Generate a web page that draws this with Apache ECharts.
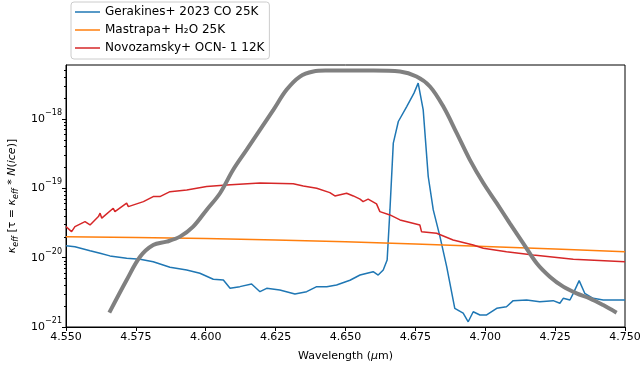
<!DOCTYPE html>
<html>
<head>
<meta charset="utf-8">
<script src="https://cdn.jsdelivr.net/npm/echarts@6/dist/echarts.min.js"></script>
<style>html,body{margin:0;padding:0;background:#fff}#c{width:642px;height:367px}</style>
</head>
<body>
<div id="c"></div>
<script>
// ---- data (real units) ----
const xTicks = [4.550, 4.575, 4.600, 4.625, 4.650, 4.675, 4.700, 4.725, 4.750];
const yTickExps = [-21, -20, -19, -18];

const seriesNames = ['Gerakines+ 2023 CO 25K', 'Mastrapa+ H\u2082O 25K', 'Novozamsky+ OCN- 1 12K'];

const coWave = [4.5500,4.5532,4.5586,4.5622,4.5657,4.5717,4.5765,4.5812,4.5872,4.5932,4.5979,4.6027,4.6063,4.6087,4.6122,4.6164,4.6194,4.6218,4.6265,4.6319,4.6361,4.6397,4.6433,4.6468,4.6516,4.6552,4.6599,4.6617,4.6635,4.6649,4.6659,4.6671,4.6689,4.6719,4.6745,4.6760,4.6778,4.6796,4.6814,4.6838,4.6862,4.6891,4.6921,4.6939,4.6957,4.6981,4.7005,4.7041,4.7076,4.7100,4.7148,4.7195,4.7243,4.7267,4.7279,4.7303,4.7315,4.7336,4.7356,4.7386,4.7422,4.7458,4.7500];
const coVal  = [1.48e-20,1.44e-20,1.26e-20,1.16e-20,1.06e-20,9.79e-21,9.48e-21,8.75e-21,7.26e-21,6.65e-21,5.96e-21,4.88e-21,4.76e-21,3.61e-21,3.82e-21,4.17e-21,3.23e-21,3.61e-21,3.42e-21,2.99e-21,3.23e-21,3.82e-21,3.82e-21,4.04e-21,4.72e-21,5.62e-21,6.28e-21,5.62e-21,6.65e-21,9.27e-21,4.88e-20,4.48e-19,9.19e-19,1.51e-18,2.36e-18,3.29e-18,1.35e-18,1.48e-19,4.88e-20,2.01e-20,7.41e-21,1.86e-21,1.58e-21,1.19e-21,1.66e-21,1.49e-21,1.49e-21,1.86e-21,1.96e-21,2.40e-21,2.45e-21,2.32e-21,2.40e-21,2.20e-21,2.59e-21,2.45e-21,3.06e-21,4.66e-21,3.06e-21,2.59e-21,2.45e-21,2.45e-21,2.45e-21];

const h2oWave = [4.550,4.575,4.600,4.625,4.650,4.675,4.700,4.725,4.750];
const h2oVal  = [2.01e-20,1.96e-20,1.89e-20,1.80e-20,1.70e-20,1.58e-20,1.45e-20,1.33e-20,1.22e-20];

const ocnWave = [4.5500,4.5520,4.5532,4.5568,4.5586,4.5616,4.5622,4.5628,4.5669,4.5675,4.5717,4.5723,4.5777,4.5812,4.5836,4.5872,4.5932,4.6003,4.6075,4.6194,4.6313,4.6349,4.6397,4.6444,4.6462,4.6504,4.6528,4.6552,4.6563,4.6581,4.6611,4.6623,4.6659,4.6695,4.6766,4.6772,4.6826,4.6885,4.6957,4.6993,4.7076,4.7172,4.7315,4.7500];
const ocnVal  = [2.80e-20,2.37e-20,2.80e-20,3.30e-20,2.96e-20,3.91e-20,4.38e-20,3.71e-20,5.16e-20,4.61e-20,6.10e-20,5.45e-20,6.43e-20,7.59e-20,7.59e-20,8.95e-20,9.48e-20,1.06e-19,1.12e-19,1.19e-19,1.16e-19,1.08e-19,1.00e-19,8.67e-20,7.76e-20,8.49e-20,7.76e-20,6.97e-20,6.43e-20,6.97e-20,5.96e-20,4.61e-20,4.13e-20,3.50e-20,2.96e-20,2.37e-20,2.25e-20,1.80e-20,1.52e-20,1.37e-20,1.22e-20,1.09e-20,9.48e-21,8.75e-21];

const filtWave = [4.5655,4.5717,4.5765,4.5812,4.5860,4.5908,4.5955,4.6003,4.6051,4.6098,4.6146,4.6194,4.6242,4.6289,4.6337,4.6385,4.6433,4.6480,4.6600,4.6695,4.6754,4.6802,4.6850,4.6898,4.6945,4.6993,4.7041,4.7088,4.7136,4.7184,4.7231,4.7279,4.7327,4.7374,4.7422,4.7470];
const filtVal  = [1.61e-21,4.76e-21,1.03e-20,1.52e-20,1.70e-20,2.01e-20,2.80e-20,4.88e-20,8.49e-20,1.85e-19,3.58e-19,6.97e-19,1.35e-18,2.63e-18,4.09e-18,4.83e-18,4.99e-18,5.0e-18,5.0e-18,4.83e-18,4.09e-18,2.94e-18,1.51e-18,6.24e-19,2.57e-19,1.19e-19,6.10e-20,3.13e-20,1.61e-20,8.30e-21,5.32e-21,3.82e-21,3.06e-21,2.59e-21,2.07e-21,1.61e-21];

const yMin = 1e-21, yMax = 6.0e-18;

// ---- build ----
// ECharts log scale rounds tiny numbers, so plot in units of 1e-21 and label with true exponents
const SCALE = 1e21;
const pairs = (w, v) => w.map((x, i) => [x, v[i] * SCALE]);
const majorVals = yTickExps.map(e => Math.pow(10, e) * SCALE);
const minorVals = [];
for (let e = -21; e <= -18; e++) for (let m = 2; m <= 9; m++) {
  const v = m * Math.pow(10, e);
  if (v <= yMax) minorVals.push(v * SCALE);
}
const font = 'DejaVu Sans';
const chart = echarts.init(document.getElementById('c'), null, {renderer: 'canvas'});
const lineS = (name, data, color, w, z) => ({
  name, type: 'line', data, showSymbol: false, symbol: 'none', z,
  lineStyle: {color, width: w}, itemStyle: {color}, animation: false
});
const lineIcon = 'path://M0,0H50V3H0Z';
chart.setOption({
  animation: false,
  textStyle: {fontFamily: font},
  grid: {left: 66, right: 17, top: 65, bottom: 40, containLabel: false, outerBoundsMode: 'none',
         show: true, borderColor: '#000', borderWidth: 1},
  legend: {
    data: seriesNames.map(n => ({name: n, icon: lineIcon})),
    orient: 'vertical', left: 71, top: 2,
    padding: [3, 5, 4, 4], itemGap: 4, itemWidth: 25, itemHeight: 12, itemTextGap: 9,
    borderColor: '#ccc', borderWidth: 1, borderRadius: 3, backgroundColor: '#fff',
    textStyle: {fontFamily: font, fontSize: 12, color: '#000', lineHeight: 14}
  },
  xAxis: {
    type: 'value', min: xTicks[0], max: xTicks[xTicks.length - 1], interval: 0.025,
    name: 'Wavelength ({it|\u03bc}m)', nameLocation: 'middle', nameGap: 24,
    nameTextStyle: {fontFamily: font, fontSize: 11, color: '#000', rich: {it: {fontFamily: font, fontStyle: 'italic', fontSize: 11}}},
    axisLine: {lineStyle: {color: '#000', width: 1}},
    axisTick: {length: 4, lineStyle: {color: '#000'}},
    axisLabel: {fontFamily: font, fontSize: 11, color: '#000', margin: 5, formatter: v => v.toFixed(3)},
    splitLine: {show: false}
  },
  yAxis: [{
    type: 'log', logBase: 10, min: yMin * SCALE, max: yMax * SCALE,
    name: '{k|\u03ba}{sub|eff} [\u03c4 = {k|\u03ba}{sub|eff} * {it|N}({it|ice})]',
    nameLocation: 'middle', nameRotate: 90, nameGap: 46,
    nameTextStyle: {fontFamily: font, fontSize: 11, color: '#000',
      rich: {
        k: {fontFamily: font, fontStyle: 'italic', fontSize: 11, lineHeight: 16, verticalAlign: 'middle'},
        sub: {fontFamily: font, fontStyle: 'italic', fontSize: 8, lineHeight: 16, verticalAlign: 'bottom'},
        it: {fontFamily: font, fontStyle: 'italic', fontSize: 11, lineHeight: 16, verticalAlign: 'middle'}
      }},
    axisLine: {show: true, lineStyle: {color: '#000', width: 1}},
    axisTick: {show: true, length: 4, lineStyle: {color: '#000'}, customValues: majorVals},
    axisLabel: {
      customValues: majorVals, margin: 4, color: '#000',
      formatter: v => '{b|10}{s|\u2212' + String(21 - Math.round(Math.log10(v))) + '}',
      rich: {
        b: {fontFamily: font, fontSize: 11, color: '#000', lineHeight: 20, verticalAlign: 'middle'},
        s: {fontFamily: font, fontSize: 8, color: '#000', lineHeight: 20, verticalAlign: 'top'}
      }
    },
    splitLine: {show: false}
  }, {
    type: 'log', logBase: 10, min: yMin * SCALE, max: yMax * SCALE, position: 'left', offset: 0,
    axisLine: {show: false},
    axisTick: {show: true, length: 2, lineStyle: {color: '#000'}, customValues: minorVals},
    axisLabel: {show: false, customValues: minorVals},
    splitLine: {show: false}
  }],
  series: [
    lineS(seriesNames[0], pairs(coWave, coVal), '#1f77b4', 1.5, 3),
    lineS(seriesNames[1], pairs(h2oWave, h2oVal), '#ff7f0e', 1.5, 3),
    lineS(seriesNames[2], pairs(ocnWave, ocnVal), '#d62728', 1.5, 3),
    Object.assign(lineS('filter', pairs(filtWave, filtVal), '#808080', 4, 4), {smooth: 0.35})
  ]
});
</script>
</body>
</html>
